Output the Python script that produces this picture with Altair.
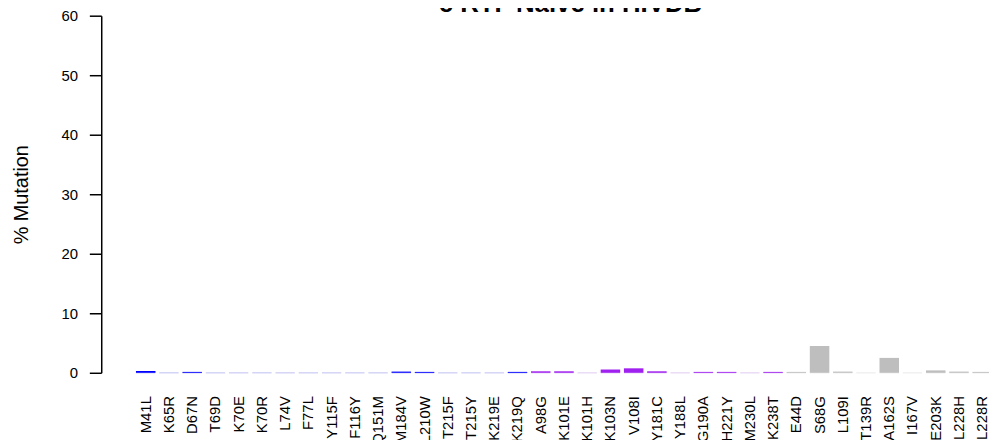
import altair as alt
import pandas as pd

mutations = ["M41L", "K65R", "D67N", "T69D", "K70E", "K70R", "L74V", "F77L", "Y115F", "F116Y",
             "Q151M", "M184V", "L210W", "T215F", "T215Y", "K219E", "K219Q",
             "A98G", "K101E", "K101H", "K103N", "V108I", "Y181C", "Y188L", "G190A", "H221Y",
             "M230L", "K238T",
             "E44D", "S68G", "L109I", "T139R", "A162S", "I167V", "E203K", "L228H", "L228R"]
values = [0.3, 0, 0.15, 0, 0, 0, 0, 0, 0, 0,
          0, 0.2, 0.15, 0, 0, 0, 0.15,
          0.25, 0.25, 0, 0.55, 0.75, 0.25, 0, 0.15, 0.15,
          0, 0.15,
          0.15, 4.5, 0.2, 0, 2.5, 0, 0.4, 0.2, 0.15]
groups = ["NRTI"] * 17 + ["NNRTI"] * 11 + ["Other"] * 9
group_names = ["NRTI", "NNRTI", "Other"]
bar_colors = ["#0000FF", "#A020F0", "#BEBEBE"]
pale_colors = ["#C2C2F4", "#E2CDF4", "#EBEBEB"]
title_text = "c  RTI\u2013Naive in HIVDB"

df = pd.DataFrame({"mut": mutations, "val": values, "grp": groups})

xenc = alt.X("mut:N", sort=mutations, title=None,
             scale=alt.Scale(range=[0, 863], paddingInner=0.16, paddingOuter=0),
             axis=alt.Axis(labelAngle=-90, ticks=False, domain=False, labelPadding=23,
                           labelFontSize=15, labelFont="Liberation Sans", labelColor="#000000"))

base = alt.Chart(df)

zero_lines = base.mark_tick(size=19.5, thickness=1.5, orient="horizontal").encode(
    x=xenc,
    y=alt.Y("zero:Q"),
    color=alt.Color("grp:N", scale=alt.Scale(domain=group_names, range=pale_colors), legend=None),
).transform_calculate(zero="0")

bars = base.mark_bar().encode(
    x=xenc,
    y=alt.Y("val:Q", title="% Mutation",
            scale=alt.Scale(domain=[0, 60], nice=False),
            axis=alt.Axis(values=[0, 10, 20, 30, 40, 50, 60], grid=False, offset=35,
                          tickSize=12, tickColor="#000000", domainColor="#000000",
                          tickWidth=1.5, domainWidth=1.5,
                          labelPadding=12, labelFontSize=15, labelFont="Liberation Sans",
                          labelColor="#000000", titleFontSize=20, titleFont="Liberation Sans",
                          titleFontWeight="normal", titleColor="#000000", titlePadding=30)),
    color=alt.Color("grp:N", scale=alt.Scale(domain=group_names, range=bar_colors), legend=None),
)

title = alt.Chart(pd.DataFrame({"t": [title_text]})).mark_text(
    font="Liberation Sans", fontSize=26, fontWeight="bold", align="center",
    baseline="alphabetic", color="#000000"
).encode(text="t:N", x=alt.value(438), y=alt.value(-4))

chart = alt.layer(zero_lines, bars, title).resolve_scale(color="independent").properties(
    width=860, height=360,
    autosize=alt.AutoSizeParams(type="none"),
    padding={"left": 129, "top": 6, "right": 0, "bottom": 66},
).configure_view(stroke=None)

chart.save("out.html", embed_options={"renderer": "svg", "actions": False})
